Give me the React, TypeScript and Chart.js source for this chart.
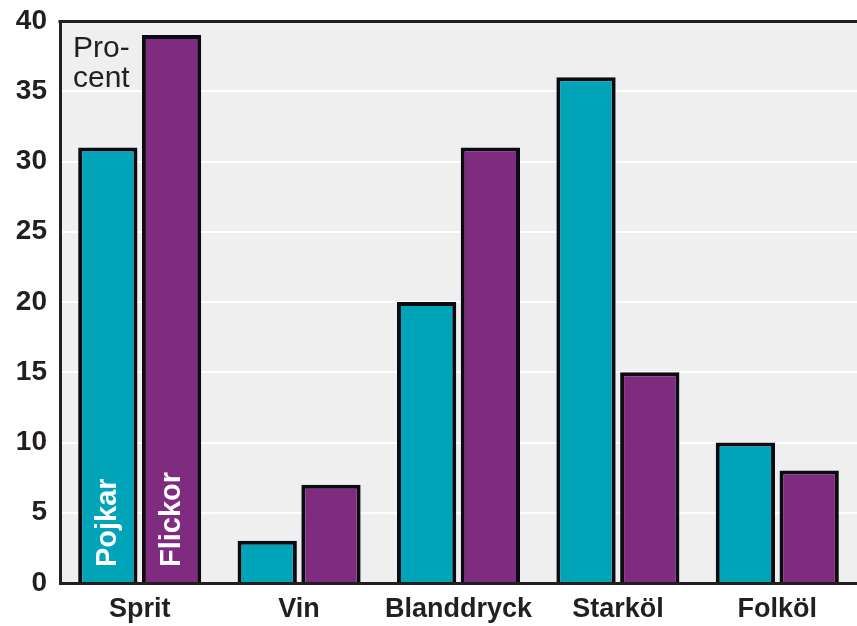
import React, { useEffect, useRef } from "react";
import { Chart, registerables } from "chart.js";

Chart.register(...registerables);

const categories = ["Sprit", "Vin", "Blanddryck", "Starköl", "Folköl"];
const seriesNames = ["Pojkar", "Flickor"];
const pojkar = [31, 3, 20, 36, 10];
const flickor = [39, 7, 31, 15, 8];
const yTicks = [0, 5, 10, 15, 20, 25, 30, 35, 40];
const unitLabel = ["Pro-", "cent"];

const TEAL = "#00a4b8";
const PURPLE = "#7f2b80";
const BG = "#efefef";
const INK = "#231f20";
const FONT = "'Liberation Sans', Arial, sans-serif";

const decorPlugin = {
  id: "decor",
  beforeDraw(chart: any) {
    const { ctx, chartArea } = chart;
    ctx.save();
    ctx.fillStyle = BG;
    ctx.fillRect(chartArea.left, chartArea.top, chartArea.right - chartArea.left, chartArea.bottom - chartArea.top);
    ctx.restore();
  },
  afterDraw(chart: any) {
    const { ctx, chartArea } = chart;
    ctx.save();
    // top border
    ctx.strokeStyle = INK;
    ctx.lineWidth = 3;
    ctx.beginPath();
    ctx.moveTo(chartArea.left - 1.5, chartArea.top + 0.5);
    ctx.lineTo(chartArea.right, chartArea.top + 0.5);
    ctx.stroke();
    // unit label
    ctx.fillStyle = INK;
    ctx.font = `30px ${FONT}`;
    ctx.textAlign = "left";
    ctx.textBaseline = "alphabetic";
    ctx.fillText(unitLabel[0], chartArea.left + 13, 57);
    ctx.fillText(unitLabel[1], chartArea.left + 13, 87);
    // series names inside first bars
    const yBase = chart.scales.y.getPixelForValue(0);
    chart.data.datasets.forEach((ds: any, i: number) => {
      const bar = chart.getDatasetMeta(i).data[0];
      ctx.save();
      ctx.translate(bar.x + 8, yBase - 16);
      ctx.rotate(-Math.PI / 2);
      ctx.fillStyle = "#ffffff";
      ctx.font = `bold 29px ${FONT}`;
      ctx.textAlign = "left";
      ctx.textBaseline = "alphabetic";
      ctx.fillText(seriesNames[i], 0, 0);
      ctx.restore();
    });
    ctx.restore();
  },
};

export default function App() {
  const ref = useRef<HTMLCanvasElement>(null);
  useEffect(() => {
    const chart = new Chart(ref.current!, {
      type: "bar",
      data: {
        labels: categories,
        datasets: [
          { label: seriesNames[0], data: pojkar, backgroundColor: TEAL, borderColor: "#0d0a14", borderWidth: 4 },
          { label: seriesNames[1], data: flickor, backgroundColor: PURPLE, borderColor: "#0d0a14", borderWidth: 4 },
        ],
      },
      options: {
        animation: false,
        responsive: false,
        maintainAspectRatio: false,
        layout: { padding: { top: 21, right: 0, left: 0, bottom: 0 } },
        datasets: { bar: { categoryPercentage: 0.8, barPercentage: 0.93 } },
        plugins: { legend: { display: false }, tooltip: { enabled: false } },
        scales: {
          x: {
            grid: { color: "rgba(0,0,0,0)", drawOnChartArea: false, drawTicks: false },
            border: { display: true, color: INK, width: 3 },
            ticks: { color: INK, font: { family: FONT, size: 27, weight: "bold" }, padding: 10 },
            afterFit: (s: any) => { s.height = 43; s.paddingLeft = 0; s.paddingRight = 0; },
          },
          y: {
            min: 0,
            max: 40,
            afterBuildTicks: (s: any) => { s.ticks = yTicks.map((v) => ({ value: v })); },
            grid: { color: "#ffffff", lineWidth: 2, drawTicks: false },
            border: { display: true, color: INK, width: 3 },
            ticks: { color: INK, font: { family: FONT, size: 28, weight: "bold" }, padding: 13 },
            afterFit: (s: any) => { s.width = 60; s.paddingTop = 0; s.paddingBottom = 0; },
          },
        },
      },
      plugins: [decorPlugin],
    });
    return () => chart.destroy();
  }, []);
  return (
    <div style={{ position: "fixed", left: 0, top: 0, width: 857, height: 626, background: "#fff" }}>
      <canvas ref={ref} width={857} height={626} style={{ width: 857, height: 626 }} />
    </div>
  );
}
